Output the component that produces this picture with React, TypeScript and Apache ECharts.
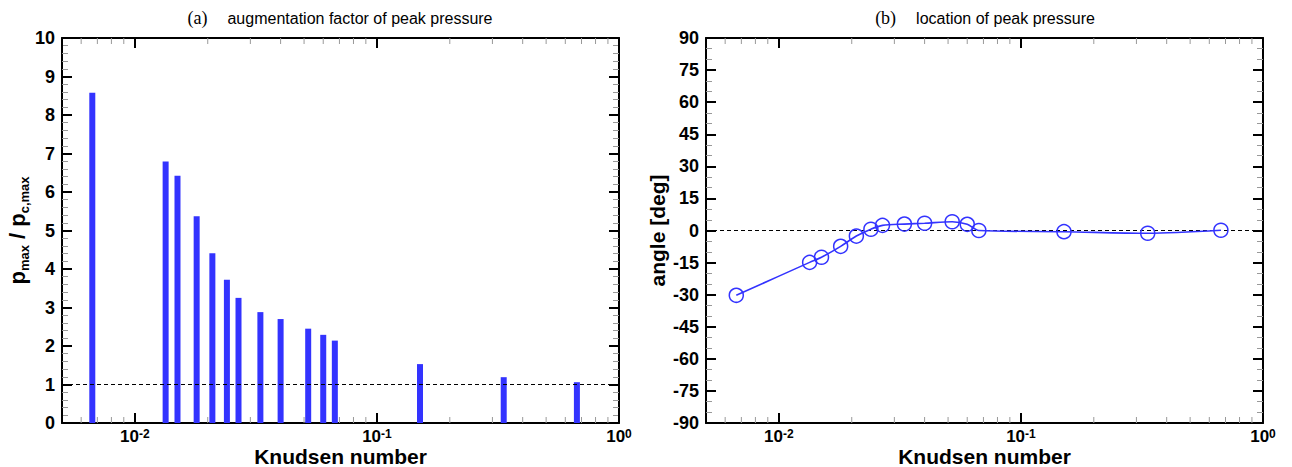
import React, { useEffect, useRef } from 'react';
import * as echarts from 'echarts';

// Knudsen numbers of the cases
const knudsen = [0.00667, 0.0134, 0.015, 0.018, 0.0209, 0.024, 0.0268, 0.033, 0.04, 0.052, 0.06, 0.067, 0.1506, 0.334, 0.67];
// (a) augmentation factor p_max / p_c,max
const pressureRatio = [8.58, 6.79, 6.42, 5.37, 4.41, 3.72, 3.25, 2.88, 2.7, 2.45, 2.29, 2.14, 1.53, 1.19, 1.06];
// (b) location of peak pressure [deg]
const peakAngle = [-30.3, -14.9, -12.5, -7.4, -2.6, 0.6, 2.4, 3.0, 3.4, 4.1, 2.9, 0.0, -0.55, -1.3, 0.1];
// minor log ticks (2..9 x decade)
const minorKn = [0.006, 0.007, 0.008, 0.009, 0.02, 0.03, 0.04, 0.05, 0.06, 0.07, 0.08, 0.09, 0.2, 0.3, 0.4, 0.5, 0.6, 0.7, 0.8, 0.9];
const xRange = [0.005, 1];
const yRangeA = [0, 10];
const yRangeB = [-90, 90];
const refA = 1;
const refB = 0;

const SANS = '"Liberation Sans", Arial, sans-serif';
const SERIF = '"Liberation Serif", "Times New Roman", serif';
const BLUE = '#3333ff';

export default function App() {
  const ref = useRef<HTMLDivElement>(null);
  useEffect(() => {
    if (!ref.current) return;
    const chart = echarts.init(ref.current, undefined, { renderer: 'svg' });

    const grids = [
      { left: 62, top: 38, width: 557, height: 385, containLabel: false, outerBoundsMode: 'none' },
      { left: 706, top: 38, width: 557, height: 385, containLabel: false, outerBoundsMode: 'none' },
    ];

    const logFormatter = (v: number) => {
      const e = Math.log10(v);
      if (Math.abs(e - Math.round(e)) > 1e-6) return '';
      return `{b|10}{s|${Math.round(e)}}`;
    };

    const xAxisBase = (gridIndex: number, position: 'top' | 'bottom') => ({
      type: 'log',
      logBase: 10,
      gridIndex,
      position,
      min: xRange[0],
      max: xRange[1],
      name: position === 'bottom' ? 'Knudsen number' : '',
      nameLocation: 'middle',
      nameGap: 23,
      nameMoveOverlap: false,
      nameTextStyle: { fontFamily: SANS, fontWeight: 'bold', fontSize: 21, color: '#000', lineHeight: 21 },
      axisLine: { show: true, onZero: false, lineStyle: { color: '#000', width: 2 } },
      axisTick: { show: true, inside: true, length: 10, lineStyle: { color: '#000', width: 2 } },
      splitLine: { show: false },
      minorTick: { show: false },
      axisLabel: {
        show: position === 'bottom',
        margin: 5,
        formatter: logFormatter,
        rich: {
          b: { fontFamily: SANS, fontWeight: 'bold', fontSize: 17, color: '#000', lineHeight: 16 },
          s: { fontFamily: SANS, fontWeight: 'bold', fontSize: 12, color: '#000', lineHeight: 10, verticalAlign: 'top' },
        },
      },
    });

    const yAxisBase = (gridIndex: number, position: 'left' | 'right', range: number[], interval: number, minorSplit: number, name: any, nameGap: number, nameRich: any) => ({
      type: 'value',
      gridIndex,
      position,
      min: range[0],
      max: range[1],
      interval,
      name: position === 'left' ? name : '',
      nameLocation: 'middle',
      nameRotate: 90,
      nameGap,
      nameTextStyle: { fontFamily: SANS, fontWeight: 'bold', fontSize: 21, color: '#000', lineHeight: 24, rich: nameRich },
      axisLine: { show: true, onZero: false, lineStyle: { color: '#000', width: 2 } },
      axisTick: { show: true, inside: true, length: 10, lineStyle: { color: '#000', width: 2 } },
      minorTick: { show: true, splitNumber: minorSplit, length: 6, lineStyle: { color: '#999', width: 1 } },
      splitLine: { show: false },
      minorSplitLine: { show: false },
      axisLabel: {
        show: position === 'left',
        margin: 7,
        fontFamily: SANS,
        fontWeight: 'bold',
        fontSize: 18,
        color: '#000',
      },
    });

    const nameRichA = {
      p: { fontFamily: SANS, fontWeight: 'bold', fontSize: 22, color: '#000', lineHeight: 28 },
      s: { fontFamily: SANS, fontWeight: 'bold', fontSize: 13, color: '#000', lineHeight: 13, verticalAlign: 'bottom' },
    };

    const minorTickSeries = (xi: number, yi: number) => ({
      type: 'custom',
      xAxisIndex: xi,
      yAxisIndex: yi,
      clip: false,
      silent: true,
      z: 1,
      data: minorKn.map((v) => [v, 0]),
      renderItem: (params: any, api: any) => {
        const x = api.coord([api.value(0), 0])[0];
        const cs = params.coordSys;
        const bottom = cs.y + cs.height;
        return {
          type: 'group',
          children: [
            { type: 'line', shape: { x1: x, y1: bottom, x2: x, y2: bottom - 6 }, style: { stroke: '#999', lineWidth: 1 } },
            { type: 'line', shape: { x1: x, y1: cs.y, x2: x, y2: cs.y + 6 }, style: { stroke: '#999', lineWidth: 1 } },
          ],
        };
      },
    });

    const option = {
      animation: false,
      backgroundColor: '#fff',
      grid: grids,
      graphic: [
        {
          type: 'text',
          x: 340,
          y: 18,
          style: {
            text: '{a|(a)}{t|augmentation factor of peak pressure}',
            align: 'center',
            verticalAlign: 'middle',
            rich: {
              a: { fontFamily: SERIF, fontSize: 18, fill: '#000', padding: [0, 20, 0, 0] },
              t: { fontFamily: SANS, fontSize: 16, fill: '#000' },
            },
          },
        },
        {
          type: 'text',
          x: 985,
          y: 18,
          style: {
            text: '{a|(b)}{t|location of peak pressure}',
            align: 'center',
            verticalAlign: 'middle',
            rich: {
              a: { fontFamily: SERIF, fontSize: 18, fill: '#000', padding: [0, 20, 0, 0] },
              t: { fontFamily: SANS, fontSize: 16, fill: '#000' },
            },
          },
        },
      ],
      xAxis: [
        xAxisBase(0, 'bottom'),
        xAxisBase(0, 'top'),
        xAxisBase(1, 'bottom'),
        xAxisBase(1, 'top'),
      ],
      yAxis: [
        yAxisBase(0, 'left', yRangeA, 1, 5, '{p|p}{s|max}{p| / p}{s|c,max}', 26, nameRichA),
        yAxisBase(0, 'right', yRangeA, 1, 5, '', 26, undefined),
        yAxisBase(1, 'left', yRangeB, 15, 3, 'angle [deg]', 36, undefined),
        yAxisBase(1, 'right', yRangeB, 15, 3, '', 36, undefined),
      ],
      series: [
        minorTickSeries(0, 0),
        minorTickSeries(2, 2),
        {
          type: 'custom',
          xAxisIndex: 0,
          yAxisIndex: 0,
          z: 2,
          data: knudsen.map((k, i) => [k, pressureRatio[i]]),
          renderItem: (params: any, api: any) => {
            const top = api.coord([api.value(0), api.value(1)]);
            const base = api.coord([api.value(0), 0]);
            return {
              type: 'rect',
              shape: { x: top[0] - 3, y: top[1], width: 6, height: base[1] - top[1] },
              style: { fill: BLUE },
            };
          },
        },
        {
          type: 'line',
          xAxisIndex: 0,
          yAxisIndex: 0,
          z: 3,
          symbol: 'none',
          silent: true,
          data: [[xRange[0], refA], [xRange[1], refA]],
          lineStyle: { color: '#000', width: 1.2, type: [4, 3] },
        },
        {
          type: 'line',
          xAxisIndex: 2,
          yAxisIndex: 2,
          z: 2,
          symbol: 'none',
          silent: true,
          data: [[xRange[0], refB], [xRange[1], refB]],
          lineStyle: { color: '#000', width: 1.2, type: [4, 3] },
        },
        {
          type: 'line',
          xAxisIndex: 2,
          yAxisIndex: 2,
          z: 3,
          smooth: 0.3,
          symbol: 'circle',
          symbolSize: 14,
          data: knudsen.map((k, i) => [k, peakAngle[i]]),
          itemStyle: { color: 'rgba(0,0,0,0)', borderColor: BLUE, borderWidth: 1.5 },
          lineStyle: { color: BLUE, width: 1.6 },
        },
      ],
    };

    chart.setOption(option as any);
    return () => chart.dispose();
  }, []);

  return (
    <div
      ref={ref}
      style={{ position: 'fixed', left: 0, top: 0, width: 1292, height: 467, background: '#fff' }}
    />
  );
}
